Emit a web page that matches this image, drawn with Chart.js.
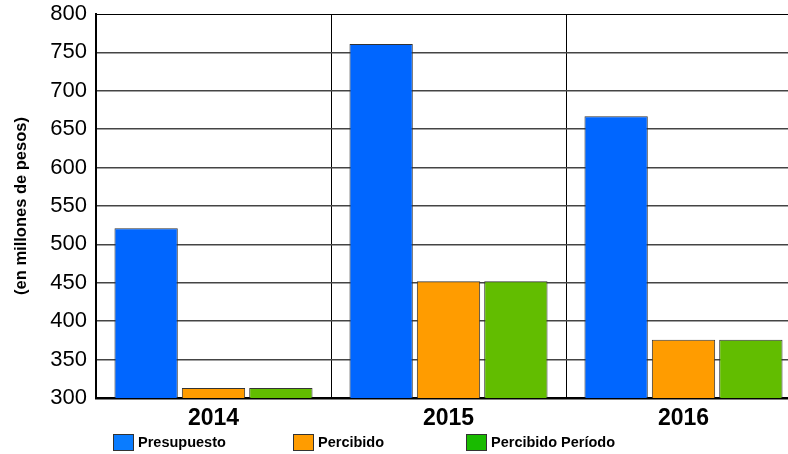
<!DOCTYPE html>
<html>
<head>
<meta charset="utf-8">
<script src="https://cdn.jsdelivr.net/npm/chart.js@4.4.1/dist/chart.umd.min.js"></script>
<style>
  html, body { margin: 0; padding: 0; background: #fff; overflow: hidden; }
  #wrap { width: 802px; height: 454px; }
</style>
</head>
<body>
<div id="wrap"><canvas id="chart" width="802" height="454"></canvas></div>
<script>
// data
var years = ["2014", "2015", "2016"];
var presupuesto = [521, 761, 667];
var percibido = [313, 452, 376];
var percibidoPeriodo = [313, 452, 376];
var seriesNames = ["Presupuesto", "Percibido", "Percibido Período"];
var yTicks = [300, 350, 400, 450, 500, 550, 600, 650, 700, 750, 800];

var barColors = ["#0066ff", "#ff9c00", "#62bd00"];
var legendColors = ["#0a7cff", "#ff9c00", "#19bb00"];

// legend drawn by hand so the items sit where the original puts them
var legendX = [113, 293, 466];
var bottomLegend = {
  id: "bottomLegend",
  afterDraw: function(chart) {
    var ctx = chart.ctx;
    ctx.save();
    ctx.font = "bold 14.5px Arial, 'Liberation Sans', sans-serif";
    ctx.textBaseline = "middle";
    ctx.textAlign = "left";
    for (var i = 0; i < seriesNames.length; i++) {
      var x = legendX[i];
      ctx.fillStyle = legendColors[i];
      ctx.fillRect(x, 434, 20, 16);
      ctx.strokeStyle = "#333";
      ctx.lineWidth = 1;
      ctx.strokeRect(x + 0.5, 434.5, 20, 16);
      ctx.fillStyle = "#000";
      ctx.fillText(seriesNames[i], x + 25, 443);
    }
    ctx.restore();
  }
};

function ds(label, data, color) {
  return {
    label: label,
    data: data,
    backgroundColor: color,
    borderColor: "#333",
    borderWidth: 1,
    categoryPercentage: 0.86,
    barPercentage: 0.94
  };
}

new Chart(document.getElementById("chart"), {
  type: "bar",
  data: {
    labels: years,
    datasets: [
      ds(seriesNames[0], presupuesto, barColors[0]),
      ds(seriesNames[1], percibido, barColors[1]),
      ds(seriesNames[2], percibidoPeriodo, barColors[2])
    ]
  },
  options: {
    responsive: false,
    animation: false,
    layout: { padding: { top: 14, right: 1, left: 0, bottom: 0 } },
    plugins: {
      legend: { display: false },
      tooltip: { enabled: false }
    },
    scales: {
      x: {
        offset: true,
        grid: { offset: true, color: "#000", lineWidth: 1, drawTicks: false },
        border: { color: "#000", width: 2.5 },
        ticks: {
          color: "#000",
          padding: 7,
          font: { family: "Arial, 'Liberation Sans', sans-serif", size: 23, weight: "bold" }
        },
        afterFit: function(scale) { scale.height = 56; }
      },
      y: {
        min: 300,
        max: 800,
        afterBuildTicks: function(scale) {
          scale.ticks = yTicks.map(function(v) { return { value: v }; });
        },
        grid: {
          color: function(c) { return c.tick && c.tick.value === 800 ? "#000" : "#444"; },
          lineWidth: function(c) { return c.tick && c.tick.value === 800 ? 1 : 1.6; },
          drawTicks: false
        },
        border: { color: "#000", width: 2 },
        ticks: {
          color: "#000",
          padding: 9,
          font: { family: "Arial, 'Liberation Sans', sans-serif", size: 22 }
        },
        title: {
          display: true,
          text: "(en millones de pesos)",
          color: "#000",
          padding: { top: 12, bottom: 0 },
          font: { family: "Arial, 'Liberation Sans', sans-serif", size: 16.5, weight: "bold" }
        },
        afterFit: function(scale) {
          scale.width = 96;
          scale.paddingTop = 0;
          scale.paddingBottom = 0;
        }
      }
    }
  },
  plugins: [bottomLegend]
});
</script>
</body>
</html>
